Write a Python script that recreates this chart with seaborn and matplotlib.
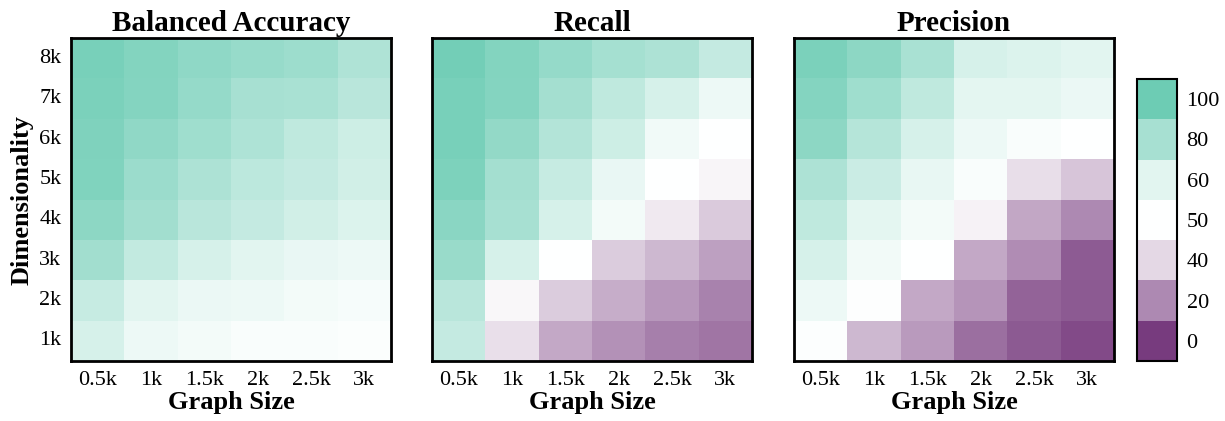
import matplotlib
matplotlib.use('Agg')
import matplotlib.pyplot as plt
import numpy as np
import seaborn as sns
from matplotlib.cm import ScalarMappable
from matplotlib.colors import BoundaryNorm, LinearSegmentedColormap, ListedColormap

# Axis categories
GRAPH_SIZES = ['0.5k', '1k', '1.5k', '2k', '2.5k', '3k']
DIMENSIONS = ['8k', '7k', '6k', '5k', '4k', '3k', '2k', '1k']

# Scores (%), rows from 8k down to 1k, columns from 0.5k to 3k
BALANCED_ACCURACY = [
    [96, 92.5, 88, 85.5, 83.5, 77],
    [95, 92, 86, 80, 79.5, 74],
    [93.5, 87.5, 82.5, 77.5, 71.5, 67],
    [93, 84, 78, 73, 70, 66],
    [89, 82, 74, 70, 66, 62],
    [82, 71, 64, 60, 57.5, 56],
    [69.5, 60, 57, 56, 54, 53],
    [64, 56, 54, 52, 52, 51.5],
]
RECALL = [
    [98, 92.5, 86, 80.5, 78, 70],
    [96, 92, 81, 71.5, 64, 56],
    [96, 87, 76, 67, 55, 50],
    [94.5, 81, 69.5, 57.5, 50, 47.5],
    [90, 80, 64, 54, 44.5, 36.5],
    [85, 64, 50, 37, 32, 26],
    [74, 48, 37, 29, 23.5, 18],
    [70, 42, 28, 22, 17.5, 15],
]
PRECISION = [
    [95, 89, 79.5, 64, 62, 60],
    [92, 82.5, 71.5, 59, 59, 57],
    [89, 75, 64, 56, 52, 50],
    [78, 68, 58, 52, 41.5, 35.5],
    [71.5, 59, 54, 46.5, 27.5, 20],
    [64, 54.5, 50, 28, 21, 8.5],
    [56, 50.5, 28, 23, 10.5, 8],
    [51, 32, 24.5, 13.5, 8, 4],
]
TITLES = ['Balanced Accuracy', 'Recall', 'Precision']
CBAR_LEVELS = [0, 20, 40, 50, 60, 80, 100]

sns.set_theme(style='white')
plt.rcParams['font.family'] = ['Liberation Serif', 'DejaVu Serif']
plt.rcParams['text.color'] = 'black'
plt.rcParams['axes.labelcolor'] = 'black'
plt.rcParams['xtick.color'] = 'black'
plt.rcParams['ytick.color'] = 'black'

# purple -> white -> teal diverging map
cmap = LinearSegmentedColormap.from_list('purple_teal', ['#773b7e', '#ffffff', '#6dccb4'])

fig = plt.figure(figsize=(12.25, 4.21), dpi=100)

axes_lefts = [0.058, 0.3527, 0.6482]
panels = [BALANCED_ACCURACY, RECALL, PRECISION]

for i, (left, data, title) in enumerate(zip(axes_lefts, panels, TITLES)):
    ax = fig.add_axes([left, 0.1425, 0.2612, 0.767])
    sns.heatmap(np.array(data), cmap=cmap, vmin=0, vmax=100, cbar=False, ax=ax,
                xticklabels=GRAPH_SIZES, yticklabels=DIMENSIONS if i == 0 else False)
    ax.set_title(title, fontsize=21, fontweight='bold', pad=5)
    ax.set_xlabel('Graph Size', fontsize=19, fontweight='bold', labelpad=1)
    if i == 0:
        ax.set_ylabel('Dimensionality', fontsize=19, fontweight='bold', labelpad=4)
        ax.set_yticklabels(DIMENSIONS, rotation=0)
    ax.tick_params(length=0, labelsize=16, pad=7)
    for spine in ax.spines.values():
        spine.set_visible(True)
        spine.set_color('black')
        spine.set_linewidth(2)

# Discrete colour bar with one block per level
cax = fig.add_axes([0.928, 0.1425, 0.0327, 0.67])
level_colors = ListedColormap([cmap(v / 100) for v in CBAR_LEVELS])
norm = BoundaryNorm(np.arange(-0.5, len(CBAR_LEVELS) + 0.5, 1), len(CBAR_LEVELS))
cb = fig.colorbar(ScalarMappable(norm=norm, cmap=level_colors), cax=cax,
                  ticks=range(len(CBAR_LEVELS)))
cb.set_ticklabels([str(v) for v in CBAR_LEVELS])
cb.outline.set_linewidth(1.5)
cb.outline.set_edgecolor('black')
cax.minorticks_off()
cax.tick_params(which='both', length=0, labelsize=16, pad=7)

fig.savefig('out.png', dpi=100)
